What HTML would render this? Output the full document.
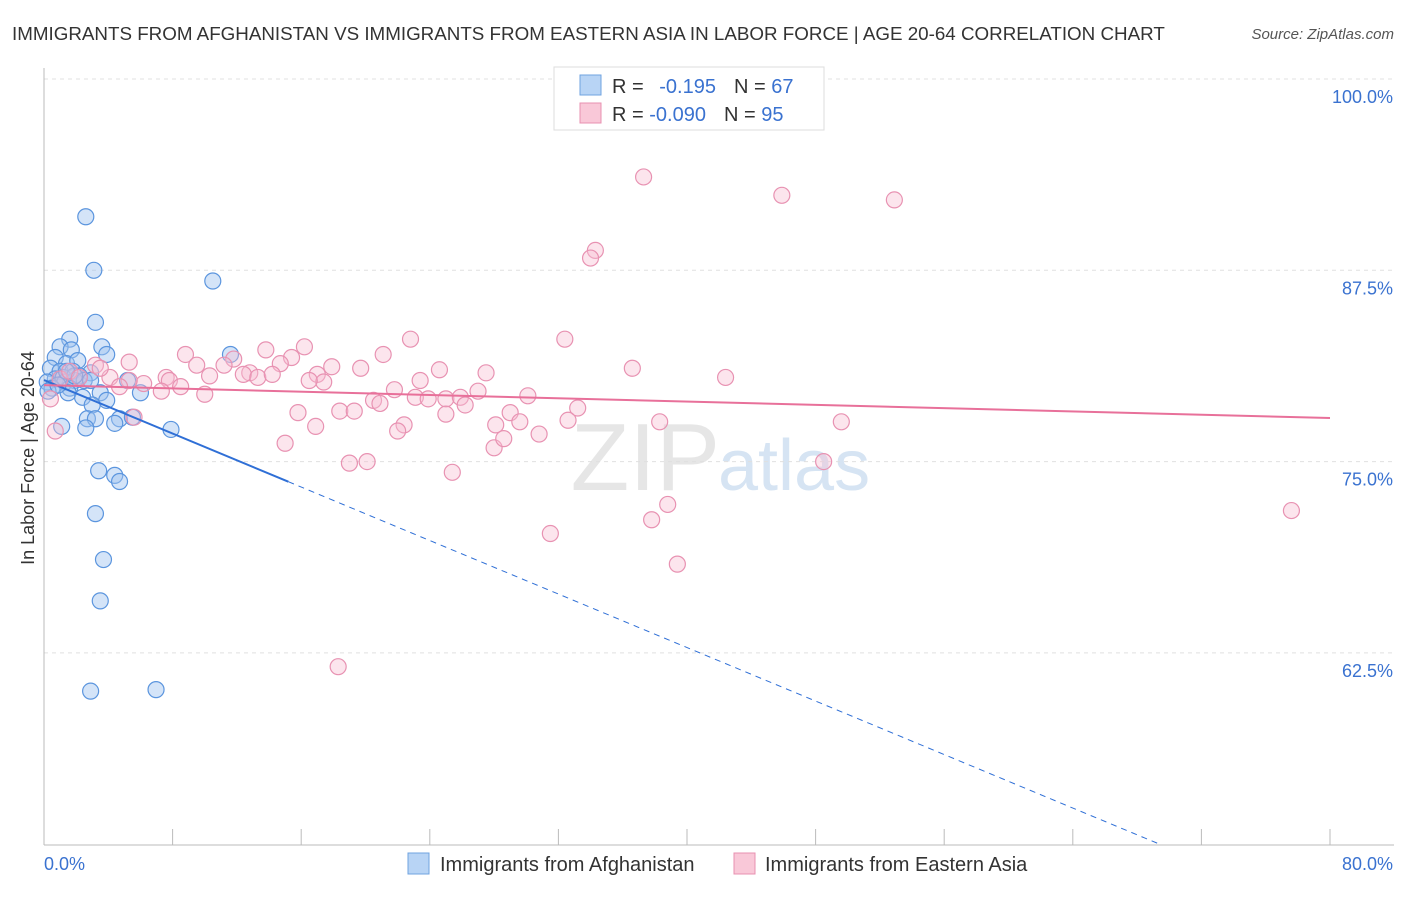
<!DOCTYPE html>
<html><head><meta charset="utf-8">
<style>
body{margin:0;background:#fff;font-family:"Liberation Sans",sans-serif;}
svg text{font-family:"Liberation Sans",sans-serif;}
</style></head>
<body>
<svg id="chart" width="1406" height="892" xmlns="http://www.w3.org/2000/svg">
<text x="12" y="40" font-size="18.8" fill="#333">IMMIGRANTS FROM AFGHANISTAN VS IMMIGRANTS FROM EASTERN ASIA IN LABOR FORCE | AGE 20-64 CORRELATION CHART</text>
<text x="1394" y="39" font-size="15" fill="#555" text-anchor="end" font-style="italic">Source: ZipAtlas.com</text>
<text x="720" y="490" font-size="96" fill="#e6e6e6" text-anchor="end" font-family="Liberation Serif">ZIP</text>
<text x="718" y="490" font-size="72" fill="#d6e4f3">atlas</text>
<g id="grid"></g>
<g id="axes"></g>
<g id="pts"></g>
<g id="lines"></g>
<text transform="translate(34,458) rotate(-90)" font-size="18" fill="#333" text-anchor="middle">In Labor Force | Age 20-64</text>
<g>
<rect x="554" y="67" width="270" height="63" fill="#fff" stroke="#ddd"/>
<rect x="580" y="75" width="21" height="20" fill="#b8d4f5" stroke="#6fa3e0"/>
<rect x="580" y="103" width="21" height="20" fill="#f9c8d8" stroke="#e890b0"/>
<text x="612" y="93" font-size="20" fill="#333">R = <tspan fill="#3a72d0" dx="10">-0.195</tspan><tspan dx="18" fill="#333">N = </tspan><tspan fill="#3a72d0">67</tspan></text>
<text x="612" y="121" font-size="20" fill="#333">R = <tspan fill="#3a72d0">-0.090</tspan><tspan dx="18" fill="#333">N = </tspan><tspan fill="#3a72d0">95</tspan></text>
</g>
<g>
<rect x="408" y="853" width="21" height="21" fill="#b8d4f5" stroke="#6fa3e0"/>
<text x="440" y="871" font-size="20" fill="#333">Immigrants from Afghanistan</text>
<rect x="734" y="853" width="21" height="21" fill="#f9c8d8" stroke="#e890b0"/>
<text x="765" y="871" font-size="20" fill="#333">Immigrants from Eastern Asia</text>
</g>
</svg>
<script>
const blueX=[2.6,3.1,10.5,3.2,1.6,1.0,1.7,3.6,3.9,11.6,0.7,1.4,2.1,0.4,1.0,1.8,2.9,0.7,1.2,2.2,0.2,1.3,1.9,2.5,5.2,0.5,1.6,2.9,1.5,2.4,3.5,3.9,6.0,3.0,2.7,3.2,4.7,5.5,4.4,2.6,1.1,7.9,3.4,4.4,4.7,3.2,3.7,3.5,2.9,6.97,0.25,0.87,1.9,1.4];
const blueY=[91.0,87.5,86.8,84.1,83.0,82.5,82.3,82.5,82.0,82.0,81.8,81.4,81.6,81.1,80.9,80.9,80.8,80.4,80.5,80.6,80.2,80.2,80.3,80.3,80.3,79.8,79.8,80.3,79.5,79.2,79.5,79.0,79.5,78.7,77.8,77.8,77.8,77.9,77.5,77.2,77.3,77.1,74.4,74.1,73.7,71.6,68.6,65.9,60.0,60.1,79.6,80.0,80.6,80.9];
const pinkX=[37.3,45.9,52.9,34.3,34.0,32.4,22.8,21.1,8.8,11.8,13.8,16.2,15.4,5.3,9.5,11.2,12.8,14.7,17.9,19.7,24.6,27.5,36.6,42.4,3.2,4.1,7.6,7.8,10.3,12.4,13.3,14.2,17.0,17.4,16.5,23.4,21.8,25.0,25.9,27.0,30.1,20.5,20.9,23.1,23.9,26.2,8.5,10.0,7.3,6.2,5.3,4.7,15.8,18.4,19.3,16.9,22.4,22.0,25.0,28.1,29.0,29.6,33.2,32.6,30.8,28.0,28.6,38.3,49.6,15.0,19.0,20.1,25.4,48.5,38.8,37.8,31.5,39.4,77.6,18.3,0.4,0.7,1.0,1.6,2.2,3.5,5.6];
const pinkY=[93.6,92.4,92.1,88.8,88.3,83.0,83.0,82.0,82.0,81.7,82.3,82.5,81.8,81.5,81.3,81.3,80.8,81.4,81.2,81.1,81.0,80.8,81.1,80.5,81.3,80.5,80.5,80.3,80.6,80.7,80.5,80.7,80.7,80.2,80.3,80.3,79.7,79.1,79.2,79.6,79.3,79.0,78.8,79.2,79.1,78.7,79.9,79.4,79.6,80.1,80.3,79.9,78.2,78.3,78.3,77.3,77.4,77.0,78.1,77.4,78.2,77.6,78.5,77.7,76.8,75.9,76.5,77.6,77.6,76.2,74.9,75.0,74.3,75.0,72.2,71.2,70.3,68.3,71.8,61.6,79.1,77.0,80.4,80.9,80.5,81.1,77.9];
const yTicks=[100,87.5,75,62.5];
const yTickLabels=["100.0%","87.5%","75.0%","62.5%"];
const xTickVals=[0,8,16,24,32,40,48,56,64,72,80];
const blueTrend=[80.33,-0.437];
const pinkTrend=[80.0,-0.0269];
const X=v=>44+v*16.075, Y=v=>79+(100-v)*15.304;
const NS="http://www.w3.org/2000/svg";
function mk(p,t,a){const e=document.createElementNS(NS,t);for(const k in a)e.setAttribute(k,a[k]);document.getElementById(p).appendChild(e);return e;}
yTicks.forEach((t,i)=>{
 const g=mk('grid','line',{x1:44,x2:1394,y1:Y(t),y2:Y(t),stroke:'#e0e0e0','stroke-dasharray':'4,4'});
 
 
 const tx=mk('axes','text',{x:1393,y:Y(t)+24,'font-size':18,fill:'#3a72d0','text-anchor':'end'});
 tx.textContent=yTickLabels[i];
 
 
});
let ax=mk('axes','line',{x1:44,x2:44,y1:68,y2:845,stroke:'#bbb'});


ax=mk('axes','line',{x1:44,x2:1394,y1:845,y2:845,stroke:'#bbb'});


xTickVals.forEach(v=>{const t=mk('axes','line',{x1:X(v),x2:X(v),y1:829,y2:845,stroke:'#bbb'});
 
 });
let l=mk('axes','text',{x:44,y:870,'font-size':18,fill:'#3a72d0'});l.textContent='0.0%';


l=mk('axes','text',{x:1393,y:870,'font-size':18,fill:'#3a72d0','text-anchor':'end'});l.textContent='80.0%';


blueX.forEach((x,i)=>{const c=mk('pts','circle',{cx:X(x),cy:Y(blueY[i]),r:8,fill:'rgba(160,196,240,0.45)',stroke:'#5b95de','stroke-width':1.2});
 
 });
pinkX.forEach((x,i)=>{const c=mk('pts','circle',{cx:X(x),cy:Y(pinkY[i]),r:8,fill:'rgba(248,190,210,0.4)',stroke:'#e892b2','stroke-width':1.2});
 
 });
const bf=v=>blueTrend[0]+blueTrend[1]*v, pf=v=>pinkTrend[0]+pinkTrend[1]*v;
let t=mk('lines','line',{x1:X(0),y1:Y(bf(0)),x2:X(15.2),y2:Y(bf(15.2)),stroke:'#2f6fd6','stroke-width':2});


const xe=(50-blueTrend[0])/blueTrend[1];
t=mk('lines','line',{x1:X(15.2),y1:Y(bf(15.2)),x2:X(xe),y2:Y(50),stroke:'#2f6fd6','stroke-width':1,'stroke-dasharray':'6,5'});


t=mk('lines','line',{x1:X(0),y1:Y(pf(0)),x2:X(80),y2:Y(pf(80)),stroke:'#e8709a','stroke-width':2});


</script>
</body></html>
